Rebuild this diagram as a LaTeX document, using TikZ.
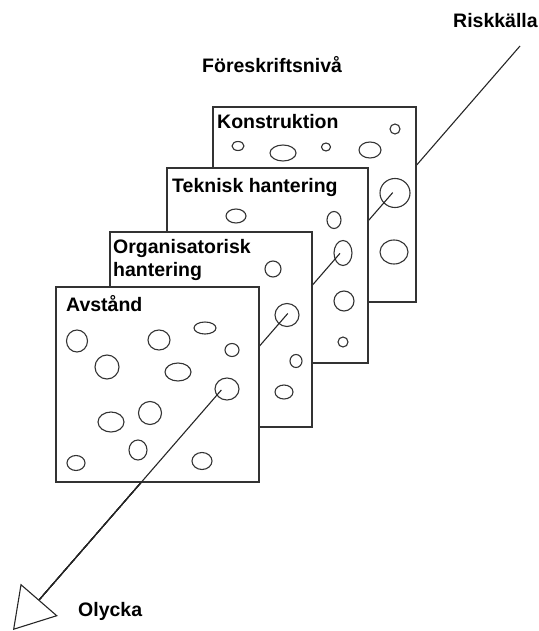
\documentclass[tikz,border=0pt]{standalone}
\usepackage{fontspec}
\setmainfont{Liberation Sans}
\usetikzlibrary{arrows.meta,calc}
\begin{document}
\begin{tikzpicture}[x=1bp,y=-1bp,
  panel/.style={draw=black!80, line width=1.3bp, fill=white},
  hole/.style={draw=black!80, line width=1.1bp},
  ray/.style={draw=black!85, line width=1.1bp},
  lbl/.style={font=\fontsize{19.5bp}{23bp}\selectfont\bfseries, inner sep=0pt, anchor=base west},
]
\useasboundingbox (0,0) rectangle (539,631);
\coordinate (R) at (520,46);
\coordinate (T) at (13,630);
\coordinate (B) at ($(T)!40bp!(R)$);
\coordinate (hK) at ($(R)!0.251!(T)$);
\coordinate (hT) at ($(R)!0.355!(T)$);
\coordinate (hO) at ($(R)!0.458!(T)$);
\coordinate (hA) at ($(R)!0.589!(T)$);

% labels outside
\node[lbl] (rk) at (453,28) {Riskkälla};
\node[lbl] (fn) at (202,73) {Föreskriftsnivå};
\node[lbl] (ol) at (78,616) {Olycka};

% full ray with arrow
\draw[ray, -{Triangle[open, length=40bp, width=49bp, line width=1.1bp]}] (R) -- (T);

% Konstruktion
\draw[panel] (213,107) rectangle (416,302);
\node[lbl] (tK) at (217,129) {Konstruktion};
\draw[hole] (395,129) ellipse [x radius=5, y radius=5];
\draw[hole] (238,146) ellipse [x radius=6, y radius=4.5];
\draw[hole] (283,153) ellipse [x radius=13, y radius=8];
\draw[hole] (326,147) ellipse [x radius=4.5, y radius=4];
\draw[hole] (370,150) ellipse [x radius=11, y radius=8];
\draw[hole] (395,193) ellipse [x radius=15, y radius=14.5];
\draw[hole] (394,252) ellipse [x radius=14, y radius=12];
\draw[ray] (hK) -- (B);

% Teknisk hantering
\draw[panel] (167,168) rectangle (368,363);
\node[lbl] (tT) at (172,192) {Teknisk hantering};
\draw[hole] (236,216) ellipse [x radius=10, y radius=7];
\draw[hole] (334,220) ellipse [x radius=7, y radius=8.5];
\draw[hole] (343,253) ellipse [x radius=9, y radius=12.5];
\draw[hole] (344,301) ellipse [x radius=10, y radius=10];
\draw[hole] (343,342) ellipse [x radius=5, y radius=5];
\draw[ray] (hT) -- (B);

% Organisatorisk hantering
\draw[panel] (110,232) rectangle (312,427);
\node[lbl] (tO1) at (113,253) {Organisatorisk};
\node[lbl] (tO2) at (113,276) {hantering};
\draw[hole] (273,269) ellipse [x radius=8, y radius=8];
\draw[hole] (287,315) ellipse [x radius=12, y radius=11.5];
\draw[hole] (296,361) ellipse [x radius=6, y radius=6.5];
\draw[hole] (284,392) ellipse [x radius=9, y radius=7];
\draw[ray] (hO) -- (B);

% Avstand
\draw[panel] (56,287) rectangle (259,482);
\node[lbl] (tA) at (66,311) {Avstånd};
\draw[hole] (77,341) ellipse [x radius=10.5, y radius=11];
\draw[hole] (159,340) ellipse [x radius=11, y radius=10];
\draw[hole] (205,328) ellipse [x radius=11, y radius=6];
\draw[hole] (232,350) ellipse [x radius=7, y radius=6.5];
\draw[hole] (107,367) ellipse [x radius=12, y radius=12];
\draw[hole] (178,372) ellipse [x radius=13, y radius=9];
\draw[hole] (227,389) ellipse [x radius=12, y radius=11];
\draw[hole] (150,413) ellipse [x radius=11.5, y radius=11.5];
\draw[hole] (111,422) ellipse [x radius=13, y radius=10];
\draw[hole] (138,450) ellipse [x radius=9, y radius=10];
\draw[hole] (76,463) ellipse [x radius=9, y radius=7.5];
\draw[hole] (202,461) ellipse [x radius=10, y radius=8.5];
\draw[ray] (hA) -- (B);
\end{tikzpicture}
\end{document}
